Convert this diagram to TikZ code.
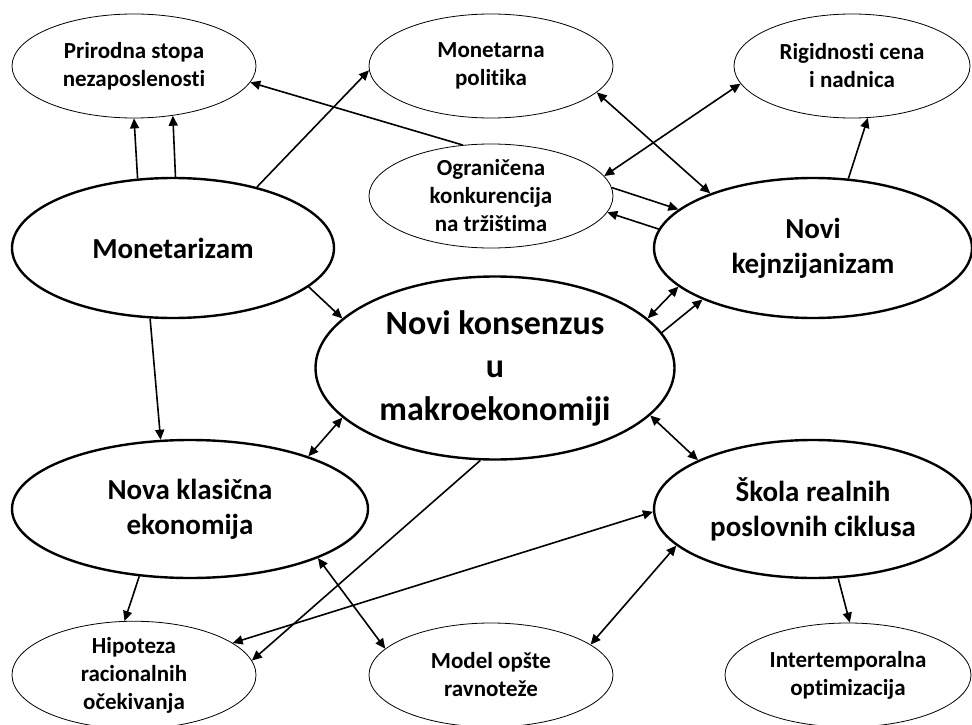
\documentclass[tikz,border=0pt]{standalone}
\usepackage{fontspec}
\setmainfont{Carlito}[Ligatures=NoCommon]
\usetikzlibrary{shapes.geometric,arrows.meta}

\begin{document}
\begin{tikzpicture}[x=1pt,y=-1pt]
\useasboundingbox (0,0) rectangle (972,725);

\begin{scope}[every node/.style={ellipse,draw,line width=0.8pt,inner sep=0pt,align=center,
              font=\bfseries\fontsize{23}{28}\selectfont,minimum width=244pt,minimum height=104pt}]
    \node (P) at (134,66) {Prirodna stopa\\nezaposlenosti};
    \node (MP) at (491,66) {Monetarna\\politika};
    \node (R)[minimum width=236pt] at (852,66) {Rigidnosti cena\\i nadnica};
    \node (O) at (491,196) {Ograničena\\konkurencija\\na tržištima};
    \node (H) at (134,675) {Hipoteza\\racionalnih\\očekivanja};
    \node (Mo) at (491,675) {Model opšte\\ravnoteže};
    \node (I)[minimum width=246pt] at (848,675) {Intertemporalna\\optimizacija};
\end{scope}

\begin{scope}[every node/.style={ellipse,draw,line width=2.4pt,inner sep=0pt,align=center,
              font=\bfseries\fontsize{29}{35}\selectfont,minimum width=318pt,minimum height=140pt}]
    \node (M)[minimum width=322pt] at (173,248) {Monetarizam};
    \node (NK) at (813,248) {Novi\\kejnzijanizam};
    \node (C)[minimum width=359pt,minimum height=183pt,
              font=\bfseries\fontsize{34}{43}\selectfont] at (495,368) {Novi konsenzus\\u\\makroekonomiji};
    \node (NC)[minimum width=356pt,minimum height=138pt] at (190,509) {Nova klasična\\ekonomija};
    \node (S)[minimum height=138pt] at (813,509) {Škola realnih\\poslovnih ciklusa};
\end{scope}

\begin{scope}[>={Triangle[length=10pt,width=9pt]},
              every edge/.style={draw=black,line width=1.6pt}]
    \path (M.117) edge[->] (P.-90);
    \path (M.88) edge[->] (P.-52);
    \path (M.36) edge[->] (MP.182);
    \path (O.119) edge[->] (P.-8);
    \path (MP.-14) edge[<->] (NK.152);
    \path (R.189) edge[<->] (O.10);
    \path (NK.63) edge[->] (R.-73);
    \path (O.4) edge[->] (NK.164);
    \path (NK.173) edge[->] (O.-8);
    \path (C.18) edge[<->] (NK.196);
    \path (C.12) edge[->] (NK.205);
    \path (M.-16) edge[->] (C.162);
    \path (M.-108) edge[->] (NC.113);
    \path (NC.24) edge[<->] (C.198);
    \path (C.-17) edge[<->] (S.157);
    \path (C.-99) edge[->] (H.7);
    \path (S.181) edge[<->] (H.18);
    \path (NC.-127) edge[->] (H.100);
    \path (NC.-21) edge[<->] (Mo.166);
    \path (S.195) edge[<->] (Mo.17);
    \path (S.-70) edge[->] (I.88);
\end{scope}
\end{tikzpicture}
\end{document}
